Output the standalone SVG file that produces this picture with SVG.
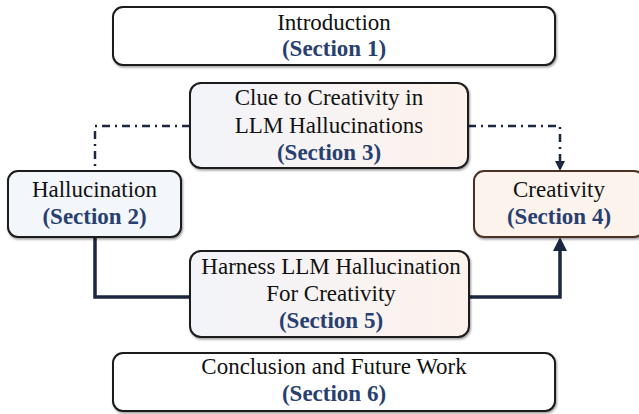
<svg xmlns="http://www.w3.org/2000/svg" width="639" height="414" viewBox="0 0 639 414">
<defs>
<linearGradient id="gmix" x1="0" y1="0" x2="1" y2="0">
<stop offset="0" stop-color="#f2f4fa"/>
<stop offset="1" stop-color="#fdf2ec"/>
</linearGradient>
<filter id="sh" x="-5%" y="-10%" width="110%" height="125%">
<feDropShadow dx="1" dy="1.5" stdDeviation="1.2" flood-color="#000" flood-opacity="0.4"/>
</filter>
<marker id="ah" markerWidth="10" markerHeight="10" refX="5" refY="5" orient="auto" markerUnits="userSpaceOnUse" viewBox="0 0 10 10">
<path d="M0,0 L10,5 L0,10 z" fill="#1b2740"/>
</marker>
<marker id="ah2" markerWidth="14" markerHeight="14" refX="7" refY="7" orient="auto" markerUnits="userSpaceOnUse" viewBox="0 0 14 14">
<path d="M0,0 L14,7 L0,14 z" fill="#1b2740"/>
</marker>
</defs>
<style>
.box{stroke:#1a1a1a;stroke-width:2;filter:url(#sh)}
.t{font-family:"Liberation Serif","Times New Roman",serif;font-size:23px;fill:#111;text-anchor:middle}
.s{font-family:"Liberation Serif","Times New Roman",serif;font-size:23px;font-weight:bold;fill:#283f6f;text-anchor:middle}
.dd{fill:none;stroke:#1b2740;stroke-width:2.5;stroke-dasharray:8 5 2 5}
.solid{fill:none;stroke:#1b2740;stroke-width:3.5}
</style>
<g id="connectors">
<path class="dd" d="M190,126 H95 V171"/>
<path class="dd" d="M468,126 H560 V166" marker-end="url(#ah)"/>
<path class="solid" d="M95,237 V297 H190"/>
<path class="solid" d="M469,297 H560 V244" marker-end="url(#ah2)"/>
</g>
<g id="intro">
<rect class="box" x="113" y="7" width="442" height="58" rx="10" fill="#fff"/>
<text class="t" x="334" y="30">Introduction</text>
<text class="s" x="334" y="56">(Section 1)</text>
</g>
<g id="clue">
<rect class="box" x="190" y="83" width="278" height="85" rx="11" fill="url(#gmix)"/>
<text class="t" x="329" y="105">Clue to Creativity in</text>
<text class="t" x="329" y="133">LLM Hallucinations</text>
<text class="s" x="329" y="160">(Section 3)</text>
</g>
<g id="hallucination">
<rect class="box" x="8" y="171" width="173" height="66" rx="10" fill="#f3f6fb"/>
<text class="t" x="94.5" y="197">Hallucination</text>
<text class="s" x="94.5" y="224">(Section 2)</text>
</g>
<g id="creativity">
<rect class="box" x="474" y="171" width="170" height="66" rx="10" fill="#fdf3ed" style="stroke:#4a3325"/>
<text class="t" x="559" y="197">Creativity</text>
<text class="s" x="559" y="224">(Section 4)</text>
</g>
<g id="harness">
<rect class="box" x="190" y="251" width="279" height="86" rx="11" fill="url(#gmix)"/>
<text class="t" x="331" y="274">Harness LLM Hallucination</text>
<text class="t" x="331" y="301">For Creativity</text>
<text class="s" x="331" y="328">(Section 5)</text>
</g>
<g id="conclusion">
<rect class="box" x="113" y="353" width="442" height="58" rx="10" fill="#fff"/>
<text class="t" x="334" y="374">Conclusion and Future Work</text>
<text class="s" x="334" y="401">(Section 6)</text>
</g>
</svg>
